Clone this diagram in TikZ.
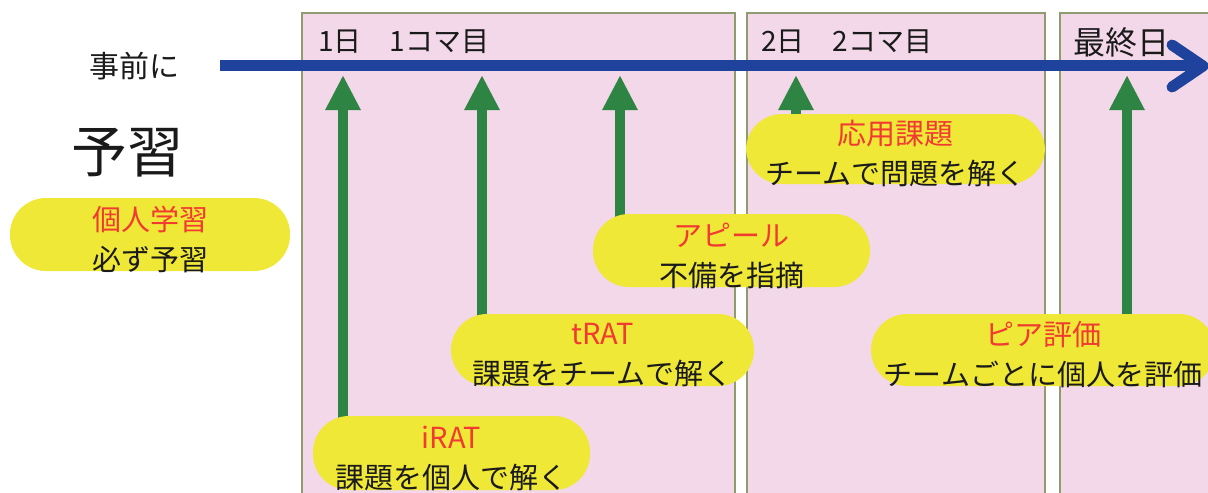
\documentclass[tikz,border=0pt]{standalone}
\usepackage{fontspec}
\setmainfont{Noto Sans CJK JP}
\usetikzlibrary{arrows.meta,calc}
\definecolor{panelpink}{HTML}{F2D8E8}
\definecolor{panelline}{HTML}{8E9C70}
\definecolor{tlblue}{HTML}{1F429C}
\definecolor{arrgreen}{HTML}{2E8442}
\definecolor{pillyellow}{HTML}{F0E836}
\definecolor{titlered}{HTML}{F03A32}
\definecolor{txtblack}{HTML}{1A1A1A}
\pgfdeclarelayer{bg}
\pgfdeclarelayer{mid}
\pgfsetlayers{bg,mid,main}
\begin{document}
\begin{tikzpicture}[x=0.5pt,y=-0.5pt,
  panel/.style={fill=panelpink,draw=panelline,line width=0.8pt},
  pill/.style={fill=pillyellow,rounded corners=18pt,inner sep=0pt,outer sep=0pt},
  pilltext/.style={align=center,font=\fontsize{14.5}{20}\selectfont,text=txtblack,inner sep=0pt},
  uparrow/.style={draw=arrgreen,fill=arrgreen,line width=5pt,-{Triangle[length=17.5pt,width=16.5pt]}},
  timeline/.style={draw=tlblue,line width=5.5pt},
  daylabel/.style={anchor=west,font=\fontsize{14}{16}\selectfont,text=txtblack,inner sep=0pt}
]
\useasboundingbox (0,0) rectangle (1208,492);

% day panels
\begin{pgfonlayer}{bg}
\draw[panel] (302,13) rectangle (735,505);
\draw[panel] (747,13) rectangle (1045,505);
\draw[panel] (1060,13) rectangle (1225,505);
\end{pgfonlayer}

% labels
\node[daylabel] (d1) at (318,42) {1日　1コマ目};
\node[daylabel] (d2) at (761,42) {2日　2コマ目};
\node[daylabel,font=\fontsize{16}{18}\selectfont] (d3) at (1073,42) {最終日};
\node[font=\fontsize{15}{17}\selectfont,text=txtblack,inner sep=0pt] (pre) at (134,66) {事前に};
\node[font=\fontsize{28}{30}\selectfont,text=txtblack,inner sep=0pt] (yoshu) at (127,153) {予習};

% pills
\node[pill,minimum width=140pt,minimum height=36.5pt] (p0) at (150,234.5) {};
\node[pilltext] (p0t) at ([yshift=-2.5pt]p0.center) {\textcolor{titlered}{個人学習}\\必ず予習};

\node[pill,minimum width=138.5pt,minimum height=37pt] (p1) at (451.5,453) {};
\node[pilltext] (p1t) at ([yshift=-2.5pt]p1.center) {\textcolor{titlered}{iRAT}\\課題を個人で解く};

\node[pill,minimum width=151.5pt,minimum height=36pt] (p2) at (602.5,350) {};
\node[pilltext] (p2t) at ([yshift=-2.5pt]p2.center) {\textcolor{titlered}{tRAT}\\課題をチームで解く};

\node[pill,minimum width=138.5pt,minimum height=36.5pt] (p3) at (731.5,250.5) {};
\node[pilltext] (p3t) at ([yshift=-2.5pt]p3.center) {\textcolor{titlered}{アピール}\\不備を指摘};

\node[pill,minimum width=149.5pt,minimum height=35pt] (p4) at (895.5,149) {};
\node[pilltext] (p4t) at ([yshift=-2.5pt]p4.center) {\textcolor{titlered}{応用課題}\\チームで問題を解く};

\node[pill,minimum width=172pt,minimum height=36pt] (p5) at (1043,350) {};
\node[pilltext] (p5t) at ([yshift=-2.5pt]p5.center) {\textcolor{titlered}{ピア評価}\\チームごとに個人を評価};

% timeline and arrows
\coordinate (tlstart) at (220,66);
\coordinate (tlend) at (1203,66);
\coordinate (t1) at (343,75);
\coordinate (t2) at (482,75);
\coordinate (t3) at (620,75);
\coordinate (t4) at (796,75);
\coordinate (t5) at (1127,75);
\begin{pgfonlayer}{mid}
\draw[timeline] (tlstart) -- ([xshift=-1pt]tlend);
\draw[timeline,line cap=round,line join=round] ($(tlend)+(-31,-21)$) -- (tlend) -- ($(tlend)+(-31,21)$);
\draw[uparrow] ($(t1 |- p1.north)+(0,8)$) -- (t1);
\draw[uparrow] ($(t2 |- p2.north)+(0,6)$) -- (t2);
\draw[uparrow] ($(t3 |- p3.north)+(0,6)$) -- (t3);
\draw[uparrow] ($(t4 |- p4.north)+(0,6)$) -- (t4);
\draw[uparrow] ($(t5 |- p5.north)+(0,6)$) -- (t5);
\end{pgfonlayer}
\end{tikzpicture}
\end{document}
